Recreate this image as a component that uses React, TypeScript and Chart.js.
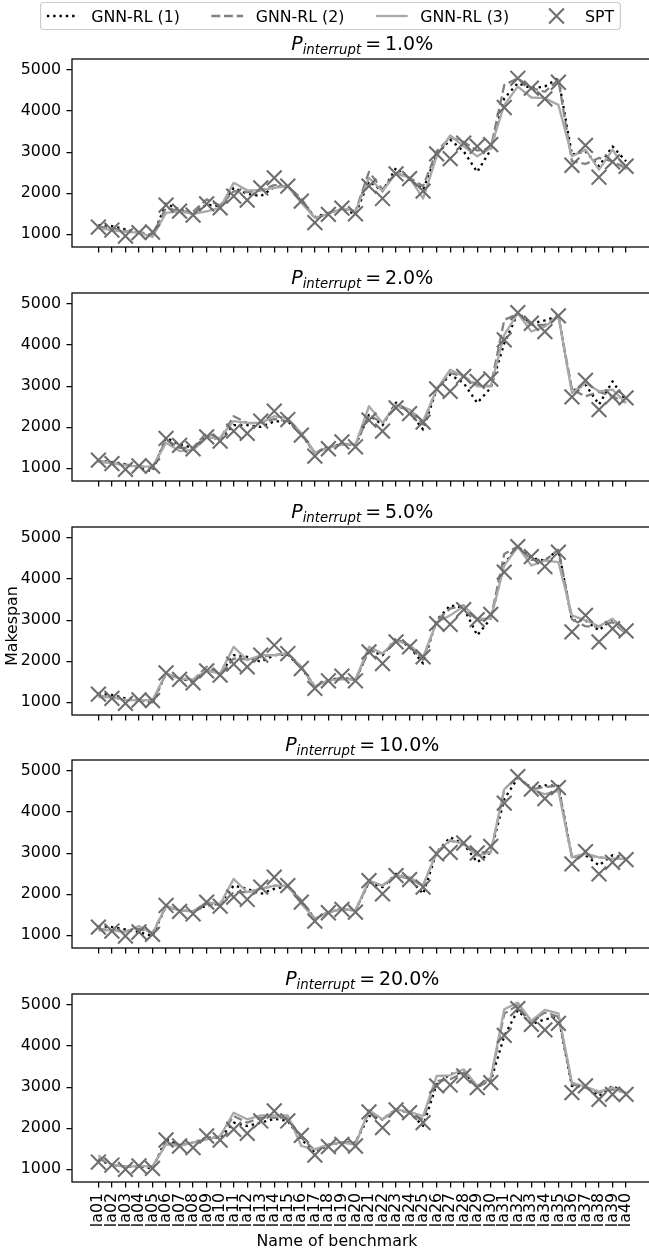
import React, { useEffect, useRef } from 'react';
import { Chart, registerables } from 'chart.js';

Chart.register(...registerables);

// Benchmark instances along the shared x axis
const BENCHMARKS = [
  'la01', 'la02', 'la03', 'la04', 'la05', 'la06', 'la07', 'la08', 'la09', 'la10',
  'la11', 'la12', 'la13', 'la14', 'la15', 'la16', 'la17', 'la18', 'la19', 'la20',
  'la21', 'la22', 'la23', 'la24', 'la25', 'la26', 'la27', 'la28', 'la29', 'la30',
  'la31', 'la32', 'la33', 'la34', 'la35', 'la36', 'la37', 'la38', 'la39', 'la40',
];

// Interruption probability of each panel, top to bottom
const P_INTERRUPT = ['1.0%', '2.0%', '5.0%', '10.0%', '20.0%'];

const Y_TICKS = [1000, 2000, 3000, 4000, 5000];

const SERIES = ['GNN-RL (1)', 'GNN-RL (2)', 'GNN-RL (3)', 'SPT'];

// Makespan, P_interrupt = 1.0%
const GNN1_P1 = [1226, 1202, 1121, 1040, 960, 1743, 1606, 1485, 1727, 1687, 2131, 1986, 1929, 2148, 2172, 1808, 1420, 1525, 1606, 1501, 2293, 2050, 2616, 2333, 2091, 2939, 3303, 3020, 2520, 3061, 4313, 4677, 4556, 4596, 4798, 2939, 3020, 2657, 3141, 2778];
const GNN2_P1 = [1190, 1150, 1080, 1060, 980, 1650, 1560, 1550, 1850, 1700, 2050, 2030, 2070, 2200, 2160, 1873, 1380, 1520, 1620, 1560, 2520, 2091, 2495, 2374, 2170, 3020, 3360, 3247, 3040, 3101, 4636, 4798, 4556, 4470, 4758, 2778, 2713, 2859, 2778, 2600];
const GNN3_P1 = [1150, 1100, 1060, 1040, 935, 1525, 1560, 1500, 1560, 1650, 2253, 2070, 2070, 2131, 2172, 1768, 1404, 1500, 1630, 1566, 2374, 2050, 2495, 2374, 1873, 2899, 3408, 3141, 2899, 3101, 4151, 4596, 4330, 4313, 4151, 2899, 3061, 2576, 3061, 2576];
const SPT_P1 = [1178, 1105, 960, 1040, 1057, 1711, 1566, 1469, 1743, 1646, 1929, 1832, 2131, 2374, 2172, 1808, 1283, 1485, 1640, 1501, 2172, 1873, 2471, 2358, 2051, 2956, 2842, 3222, 3141, 3182, 4087, 4798, 4556, 4297, 4701, 2681, 3166, 2390, 2762, 2657];

// Makespan, P_interrupt = 2.0%
const GNN1_P2 = [1180, 1150, 1100, 1000, 935, 1743, 1580, 1500, 1760, 1720, 2050, 2050, 2010, 2140, 2150, 1820, 1380, 1510, 1590, 1560, 2300, 2050, 2600, 2360, 1945, 2915, 3279, 3077, 2592, 2960, 4047, 4774, 4531, 4600, 4709, 2875, 3040, 2552, 3117, 2640];
const GNN2_P2 = [1190, 1120, 1090, 1060, 1000, 1700, 1500, 1500, 1865, 1720, 2269, 2100, 2100, 2200, 2150, 1824, 1380, 1500, 1600, 1580, 2300, 2107, 2510, 2420, 2070, 2940, 3320, 3238, 3036, 3000, 4612, 4760, 4490, 4490, 4709, 2915, 2753, 2860, 2753, 2600];
const GNN3_P2 = [1160, 1130, 1070, 1050, 1040, 1620, 1420, 1450, 1743, 1743, 2150, 2107, 2107, 2269, 2220, 1860, 1380, 1500, 1580, 1580, 2511, 2107, 2552, 2430, 2148, 2915, 3400, 3238, 2996, 2996, 4249, 4774, 4330, 4450, 4709, 2834, 3077, 2875, 2915, 2592];
const SPT_P2 = [1202, 1113, 976, 1057, 1057, 1727, 1558, 1477, 1768, 1663, 1905, 1849, 2147, 2390, 2188, 1808, 1299, 1477, 1642, 1525, 2172, 1905, 2471, 2333, 2123, 2931, 2875, 3238, 3117, 3174, 4127, 4790, 4531, 4329, 4709, 2737, 3141, 2430, 2737, 2713];

// Makespan, P_interrupt = 5.0%
const GNN1_P3 = [1220, 1180, 1097, 1060, 980, 1703, 1580, 1500, 1780, 1700, 2147, 2107, 1986, 2150, 2160, 1840, 1380, 1540, 1600, 1541, 2269, 2147, 2551, 2350, 1945, 2996, 3360, 3300, 2632, 3036, 4371, 4790, 4507, 4450, 4717, 2998, 2996, 2750, 3036, 2673];
const GNN2_P3 = [1150, 1130, 1060, 1050, 1000, 1703, 1570, 1540, 1865, 1680, 2066, 2050, 2100, 2160, 2190, 1865, 1380, 1520, 1600, 1541, 2269, 2188, 2511, 2400, 2040, 2996, 3279, 3360, 2996, 3036, 4612, 4790, 4467, 4450, 4717, 3020, 2850, 2850, 2950, 2673];
const GNN3_P3 = [1130, 1120, 1060, 1050, 1057, 1703, 1580, 1560, 1780, 1700, 2350, 2026, 2147, 2147, 2188, 1865, 1380, 1540, 1560, 1557, 2350, 2188, 2511, 2400, 2107, 2950, 3117, 3340, 3036, 3036, 4330, 4790, 4330, 4450, 4410, 3117, 2996, 2850, 3036, 2673];
const SPT_P3 = [1202, 1097, 976, 1057, 1040, 1719, 1558, 1477, 1768, 1663, 1929, 1865, 2147, 2390, 2188, 1824, 1339, 1525, 1638, 1525, 2228, 1945, 2471, 2350, 2107, 2915, 2899, 3255, 3012, 3141, 4168, 4790, 4548, 4305, 4653, 2713, 3117, 2471, 2794, 2737];

// Makespan, P_interrupt = 10.0%
const GNN1_P4 = [1226, 1202, 1145, 1081, 984, 1711, 1606, 1582, 1727, 1770, 2212, 2131, 2010, 2131, 2200, 1820, 1404, 1566, 1640, 1606, 2293, 2172, 2495, 2374, 2010, 3020, 3384, 3222, 2778, 3020, 4313, 4830, 4590, 4650, 4636, 2899, 2950, 2700, 2950, 2859];
const GNN2_P4 = [1150, 1130, 1100, 1160, 1060, 1711, 1606, 1582, 1768, 1740, 2050, 2050, 2131, 2212, 2180, 1850, 1404, 1566, 1640, 1606, 2293, 2212, 2455, 2374, 2212, 3020, 3303, 3222, 3020, 3020, 4556, 4863, 4556, 4610, 4636, 2899, 2980, 2899, 2860, 2859];
const GNN3_P4 = [1121, 1121, 1081, 1226, 1040, 1711, 1606, 1582, 1808, 1760, 2374, 2050, 2131, 2212, 2212, 1768, 1404, 1566, 1640, 1606, 2333, 2212, 2455, 2414, 2212, 3020, 3320, 3222, 2939, 3020, 4556, 4863, 4556, 4434, 4515, 2899, 2980, 2899, 2859, 2859];
const SPT_P4 = [1202, 1105, 984, 1081, 1024, 1727, 1582, 1525, 1808, 1711, 1929, 1873, 2172, 2414, 2212, 1808, 1347, 1550, 1630, 1566, 2333, 2010, 2455, 2358, 2172, 2980, 3020, 3247, 3004, 3166, 4216, 4863, 4556, 4329, 4596, 2737, 3036, 2495, 2778, 2842];

// Makespan, P_interrupt = 20.0%
const GNN1_P5 = [1230, 1105, 1065, 1080, 1020, 1730, 1590, 1650, 1770, 1770, 2136, 2055, 2136, 2230, 2177, 1730, 1405, 1600, 1650, 1650, 2298, 2217, 2460, 2379, 2055, 3069, 3320, 3353, 3029, 3150, 4246, 4870, 4530, 4651, 4716, 3030, 3010, 2785, 3029, 2866];
const GNN2_P5 = [1265, 1105, 1065, 1080, 1050, 1650, 1590, 1650, 1730, 1811, 2298, 2136, 2258, 2258, 2258, 1770, 1465, 1600, 1650, 1650, 2400, 2217, 2460, 2379, 2217, 3150, 3191, 3353, 2988, 3191, 4789, 4992, 4611, 4814, 4716, 3069, 2988, 2866, 2948, 2866];
const GNN3_P5 = [1341, 1105, 1065, 1080, 1080, 1610, 1570, 1650, 1730, 1811, 2379, 2217, 2314, 2314, 2314, 1568, 1487, 1600, 1650, 1600, 2444, 2217, 2460, 2400, 2298, 3272, 3288, 3434, 3029, 3231, 4895, 5057, 4611, 4879, 4797, 3110, 3010, 2890, 2988, 2866];
const SPT_P5 = [1178, 1105, 1000, 1081, 1024, 1714, 1568, 1527, 1811, 1714, 1974, 1876, 2177, 2420, 2177, 1828, 1349, 1552, 1609, 1568, 2396, 2014, 2444, 2379, 2136, 3029, 3053, 3272, 2988, 3110, 4262, 4911, 4530, 4392, 4554, 2866, 3029, 2704, 2826, 2826];

const PANELS = [
  { rate: P_INTERRUPT[0], series: [GNN1_P1, GNN2_P1, GNN3_P1, SPT_P1] },
  { rate: P_INTERRUPT[1], series: [GNN1_P2, GNN2_P2, GNN3_P2, SPT_P2] },
  { rate: P_INTERRUPT[2], series: [GNN1_P3, GNN2_P3, GNN3_P3, SPT_P3] },
  { rate: P_INTERRUPT[3], series: [GNN1_P4, GNN2_P4, GNN3_P4, SPT_P4] },
  { rate: P_INTERRUPT[4], series: [GNN1_P5, GNN2_P5, GNN3_P5, SPT_P5] },
];

// ---- styling ----
const FONT_FAMILY = '"DejaVu Sans", "Liberation Sans", sans-serif';
const FS = 15.8;
const TITLE_FS = 19;
const LW = 2.3;
const TICK_LEN = 5.5;
const TICK_PAD = 5.5;
const SPINE_W = 1.26;
const TEXT_COLOR = '#000000';

const LINE_STYLES = [
  { color: '#000000', dash: [2.4, 3.9] },
  { color: '#808080', dash: [8.8, 3.8] },
  { color: '#a9a9a9', dash: [] as number[] },
];
const MARKER_COLOR = '#6e6e6e';
const MARKER_HALF = 7.4;
const MARKER_LW = 2.1;

// ---- layout ----
const FIG_W = 649;
const FIG_H = 1253;
const CANVAS_W = 665;
const AX_LEFT = 72;
const AX_RIGHT = 653;
const AX_H = 188;
const AX_TOPS = [59, 293, 527, 760, 994];
const PAD_TOP = 59;
const X_MIN = -1.95;
const X_MAX = 40.95;
const Y_MIN = 692;
const Y_MAX = 5267;

const font = (size: number, italic = false) => `${italic ? 'italic ' : ''}${size}px ${FONT_FAMILY}`;

function drawCross(ctx: CanvasRenderingContext2D, cx: number, cy: number) {
  ctx.save();
  ctx.strokeStyle = MARKER_COLOR;
  ctx.lineWidth = MARKER_LW;
  ctx.setLineDash([]);
  ctx.beginPath();
  ctx.moveTo(cx - MARKER_HALF, cy - MARKER_HALF);
  ctx.lineTo(cx + MARKER_HALF, cy + MARKER_HALF);
  ctx.moveTo(cx - MARKER_HALF, cy + MARKER_HALF);
  ctx.lineTo(cx + MARKER_HALF, cy - MARKER_HALF);
  ctx.stroke();
  ctx.restore();
}

// Box around the plotting area (all four spines)
const axesFrame = {
  id: 'axesFrame',
  afterDatasetsDraw(chart: any) {
    const { ctx, chartArea: a } = chart;
    ctx.save();
    ctx.strokeStyle = '#000000';
    ctx.lineWidth = SPINE_W;
    ctx.setLineDash([]);
    ctx.strokeRect(a.left, a.top, a.right - a.left, a.bottom - a.top);
    ctx.restore();
  },
};

// Panel title "P_interrupt = x%" with an italic subscript
const panelTitle = (rate: string) => ({
  id: 'panelTitle',
  afterDraw(chart: any) {
    const { ctx, chartArea: a } = chart;
    const cx = (a.left + a.right) / 2;
    const base = a.top - 9.5;
    const sub = TITLE_FS * 0.7;
    const rel = 0.2 * TITLE_FS * 0.974;
    const parts = [
      { t: 'P', f: font(TITLE_FS, true), dy: 0, after: 0 },
      { t: 'interrupt', f: font(sub, true), dy: 4.2, after: rel + 0.5 },
      { t: '=', f: font(TITLE_FS), dy: 0, after: rel },
      { t: rate, f: font(TITLE_FS), dy: 0, after: 0 },
    ];
    ctx.save();
    let total = 0;
    const widths = parts.map((p) => {
      ctx.font = p.f;
      const w = ctx.measureText(p.t).width;
      total += w + p.after;
      return w;
    });
    let x = cx - total / 2;
    ctx.fillStyle = TEXT_COLOR;
    ctx.textAlign = 'left';
    ctx.textBaseline = 'alphabetic';
    parts.forEach((p, i) => {
      ctx.font = p.f;
      ctx.fillText(p.t, x, base + p.dy);
      x += widths[i] + p.after;
    });
    ctx.restore();
  },
});

// Figure legend in a rounded frame along the top edge
const figureLegend = {
  id: 'figureLegend',
  afterDraw(chart: any) {
    const { ctx } = chart;
    const f = FS;
    const handle = 2 * f;
    const textPad = 0.8 * f;
    const colSpace = 2 * f;
    const borderPad = 0.4 * f;
    ctx.save();
    ctx.font = font(f);
    const widths = SERIES.map((s) => ctx.measureText(s).width);
    const boxW = 2 * borderPad + SERIES.length * (handle + textPad) + (SERIES.length - 1) * colSpace + widths.reduce((s, w) => s + w, 0);
    const boxH = 27;
    const boxX = 330.5 - boxW / 2;
    const boxY = 2.5;
    const r = 0.2 * f;
    ctx.beginPath();
    ctx.moveTo(boxX + r, boxY);
    ctx.lineTo(boxX + boxW - r, boxY);
    ctx.arcTo(boxX + boxW, boxY, boxX + boxW, boxY + r, r);
    ctx.lineTo(boxX + boxW, boxY + boxH - r);
    ctx.arcTo(boxX + boxW, boxY + boxH, boxX + boxW - r, boxY + boxH, r);
    ctx.lineTo(boxX + r, boxY + boxH);
    ctx.arcTo(boxX, boxY + boxH, boxX, boxY + boxH - r, r);
    ctx.lineTo(boxX, boxY + r);
    ctx.arcTo(boxX, boxY, boxX + r, boxY, r);
    ctx.closePath();
    ctx.fillStyle = 'rgba(255,255,255,0.8)';
    ctx.fill();
    ctx.strokeStyle = '#cccccc';
    ctx.lineWidth = 1.2;
    ctx.stroke();

    const cy = boxY + boxH / 2;
    let x = boxX + borderPad;
    SERIES.forEach((name, i) => {
      if (i < LINE_STYLES.length) {
        const st = LINE_STYLES[i];
        ctx.save();
        ctx.strokeStyle = st.color;
        ctx.lineWidth = LW;
        ctx.setLineDash(st.dash);
        ctx.lineCap = 'butt';
        ctx.beginPath();
        ctx.moveTo(x, cy);
        ctx.lineTo(x + handle, cy);
        ctx.stroke();
        ctx.restore();
      } else {
        drawCross(ctx, x + handle / 2, cy);
      }
      x += handle + textPad;
      ctx.fillStyle = TEXT_COLOR;
      ctx.font = font(f);
      ctx.textBaseline = 'alphabetic';
      ctx.textAlign = 'left';
      ctx.fillText(name, x, cy + 5.8);
      x += widths[i] + colSpace;
    });
    ctx.restore();
  },
};

// Rotated y axis label shared by all panels
const sharedYLabel = (text: string, x: number, y: number) => ({
  id: 'sharedYLabel',
  afterDraw(chart: any) {
    const { ctx } = chart;
    ctx.save();
    ctx.translate(x, y);
    ctx.rotate(-Math.PI / 2);
    ctx.font = font(FS);
    ctx.fillStyle = TEXT_COLOR;
    ctx.textAlign = 'center';
    ctx.textBaseline = 'alphabetic';
    ctx.fillText(text, 0, 0);
    ctx.restore();
  },
});

// x axis label under the bottom panel
const sharedXLabel = (text: string, x: number, y: number) => ({
  id: 'sharedXLabel',
  afterDraw(chart: any) {
    const { ctx } = chart;
    ctx.save();
    ctx.font = font(FS);
    ctx.fillStyle = TEXT_COLOR;
    ctx.textAlign = 'center';
    ctx.textBaseline = 'alphabetic';
    ctx.fillText(text, x, y);
    ctx.restore();
  },
});

function Panel({ index }: { index: number }) {
  const ref = useRef<HTMLCanvasElement | null>(null);
  const last = index === PANELS.length - 1;
  const axTop = AX_TOPS[index];
  const xAxisH = last ? FIG_H - (axTop + AX_H) : 20;
  const canvasTop = axTop - PAD_TOP;
  const canvasH = PAD_TOP + AX_H + xAxisH;

  useEffect(() => {
    const panel = PANELS[index];
    const datasets: any[] = panel.series.map((vals, s) => {
      const data = vals.map((y, i) => ({ x: i, y }));
      if (s < LINE_STYLES.length) {
        const st = LINE_STYLES[s];
        return {
          label: SERIES[s],
          data,
          borderColor: st.color,
          borderWidth: LW,
          borderDash: st.dash,
          borderCapStyle: 'butt',
          borderJoinStyle: 'round',
          pointRadius: 0,
          tension: 0,
          fill: false,
          order: LINE_STYLES.length - s,
        };
      }
      return {
        label: SERIES[s],
        data,
        showLine: false,
        pointStyle: 'crossRot',
        pointRadius: MARKER_HALF / Math.SQRT1_2,
        pointBorderWidth: MARKER_LW,
        pointBorderColor: MARKER_COLOR,
        pointBackgroundColor: 'rgba(0,0,0,0)',
        order: 0,
      };
    });

    const plugins: any[] = [axesFrame, panelTitle(panel.rate)];
    if (index === 0) plugins.push(figureLegend);
    if (index === 2) plugins.push(sharedYLabel('Makespan', 16.5, 626 - canvasTop));
    if (last) plugins.push(sharedXLabel('Name of benchmark', 337, 1246 - canvasTop));

    const tickFont = { family: FONT_FAMILY, size: FS };
    const chart = new Chart(ref.current as HTMLCanvasElement, {
      type: 'line',
      data: { datasets },
      plugins,
      options: {
        responsive: false,
        maintainAspectRatio: false,
        animation: false,
        devicePixelRatio: 1,
        events: [],
        layout: { padding: { top: PAD_TOP, left: 0, right: CANVAS_W - AX_RIGHT, bottom: 0 } },
        plugins: {
          legend: { display: false },
          tooltip: { enabled: false },
          title: { display: false },
        },
        scales: {
          x: {
            type: 'linear',
            min: X_MIN,
            max: X_MAX,
            afterBuildTicks: (scale: any) => {
              scale.ticks = BENCHMARKS.map((_, i) => ({ value: i }));
            },
            afterFit: (scale: any) => {
              scale.height = xAxisH;
            },
            ticks: {
              display: last,
              autoSkip: false,
              minRotation: 90,
              maxRotation: 90,
              padding: TICK_PAD,
              font: tickFont,
              color: TEXT_COLOR,
              callback: (v: any) => BENCHMARKS[Math.round(Number(v))] ?? '',
            },
            grid: {
              display: true,
              drawOnChartArea: false,
              drawTicks: true,
              tickLength: TICK_LEN,
              color: '#000000',
              lineWidth: SPINE_W,
            },
            border: { display: false },
          },
          y: {
            type: 'linear',
            min: Y_MIN,
            max: Y_MAX,
            afterBuildTicks: (scale: any) => {
              scale.ticks = Y_TICKS.map((v) => ({ value: v }));
            },
            afterFit: (scale: any) => {
              scale.width = AX_LEFT;
            },
            ticks: {
              padding: TICK_PAD,
              font: tickFont,
              color: TEXT_COLOR,
              callback: (v: any) => String(v),
            },
            grid: {
              display: true,
              drawOnChartArea: false,
              drawTicks: true,
              tickLength: TICK_LEN,
              color: '#000000',
              lineWidth: SPINE_W,
            },
            border: { display: false },
          },
        },
      } as any,
    });
    return () => chart.destroy();
  }, []);

  return (
    <canvas
      ref={ref}
      width={CANVAS_W}
      height={canvasH}
      style={{ position: 'absolute', left: 0, top: canvasTop, width: CANVAS_W, height: canvasH }}
    />
  );
}

export default function App() {
  return (
    <div
      style={{
        position: 'absolute',
        left: 0,
        top: 0,
        width: FIG_W,
        height: FIG_H,
        overflow: 'hidden',
        background: '#ffffff',
      }}
    >
      {PANELS.map((_, i) => (
        <Panel key={i} index={i} />
      ))}
    </div>
  );
}
